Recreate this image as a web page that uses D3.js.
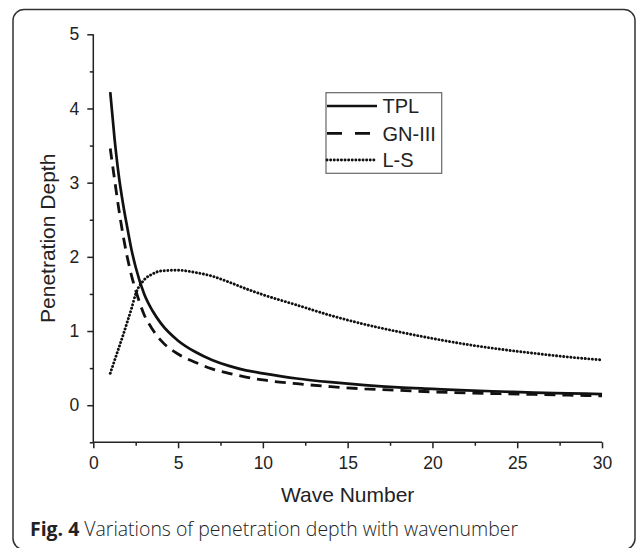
<!DOCTYPE html>
<html>
<head>
<meta charset="utf-8">
<script src="https://cdn.jsdelivr.net/npm/d3@7"></script>
<style>
  html, body { margin: 0; padding: 0; background: #fff; }
  svg { display: block; }
</style>
</head>
<body>
<script>
// ---- Data ----
const waveNumber = [1, 1.25, 1.5, 1.75, 2, 2.25, 2.5, 3, 3.5, 4, 5, 6, 7, 8, 9, 10, 12, 14, 16, 18, 20, 22, 24, 26, 28, 30];
const tplDepth   = [4.22, 3.6, 3.1, 2.72, 2.4, 2.1, 1.86, 1.5, 1.27, 1.1, 0.87, 0.72, 0.61, 0.53, 0.47, 0.43, 0.36, 0.31, 0.27, 0.24, 0.22, 0.2, 0.185, 0.17, 0.16, 0.15];
const gnDepth    = [3.46, 3.05, 2.65, 2.3, 2.0, 1.75, 1.55, 1.22, 1.02, 0.87, 0.69, 0.58, 0.49, 0.43, 0.38, 0.34, 0.29, 0.25, 0.22, 0.2, 0.18, 0.165, 0.155, 0.145, 0.135, 0.125];
const lsDepth    = [0.43, 0.6, 0.77, 0.94, 1.12, 1.3, 1.5, 1.69, 1.77, 1.81, 1.82, 1.79, 1.74, 1.66, 1.57, 1.49, 1.35, 1.21, 1.09, 0.99, 0.9, 0.82, 0.755, 0.7, 0.65, 0.61];
const seriesNames = ["TPL", "GN-III", "L-S"];
const xTicks = [0, 5, 10, 15, 20, 25, 30];
const yTicks = [0, 1, 2, 3, 4, 5];
const xLabel = "Wave Number";
const yLabel = "Penetration Depth";
const captionBold = "Fig. 4";
const captionText = " Variations of penetration depth with wavenumber";

// ---- Layout ----
const W = 637, H = 548;
const svg = d3.select("body").append("svg").attr("width", W).attr("height", H);

// frame
svg.append("rect")
  .attr("x", 13).attr("y", 9.5).attr("width", 622).attr("height", 540)
  .attr("rx", 11).attr("ry", 11)
  .attr("fill", "none").attr("stroke", "#333").attr("stroke-width", 1.5);

const x = d3.scaleLinear().domain([0, 30]).range([93.3, 602]);
const y = d3.scaleLinear().domain([-0.5, 5]).range([442.3, 34.3]);

const axisColor = "#222";
const tickFont = "'Liberation Sans', Arial, sans-serif";

// minor ticks
const xMinor = d3.range(2.5, 30, 5);
const yMinor = d3.range(-0.5, 5, 1);

// X axis
const gx = svg.append("g").attr("transform", `translate(0,${y(-0.5)})`);
gx.call(d3.axisBottom(x).tickValues(xTicks).tickSize(6).tickPadding(8).tickFormat(d3.format("d")));
gx.append("g").call(d3.axisBottom(x).tickValues(xMinor).tickSize(3.5).tickFormat(""))
  .select(".domain").remove();

// Y axis
const gy = svg.append("g").attr("transform", `translate(${x(0)},0)`);
gy.call(d3.axisLeft(y).tickValues(yTicks).tickSize(6).tickPadding(8).tickFormat(d3.format("d")));
gy.append("g").call(d3.axisLeft(y).tickValues(yMinor).tickSize(3.5).tickFormat(""))
  .select(".domain").remove();

gx.select(".domain").attr("d", `M${x(0)},0H${x(30)}`);
gy.select(".domain").attr("d", `M0,${y(-0.5)}V${y(5)}`);

svg.selectAll(".domain, .tick line").attr("stroke", axisColor).attr("stroke-width", 1.5);
svg.selectAll(".tick text").attr("font-family", tickFont).attr("font-size", 17.5).attr("fill", "#222");

// axis titles
svg.append("text")
  .attr("x", (x(0) + x(30)) / 2).attr("y", 502)
  .attr("text-anchor", "middle")
  .attr("font-family", tickFont).attr("font-size", 21).attr("fill", "#222")
  .text(xLabel);

svg.append("text")
  .attr("transform", `translate(55,${(y(-0.5) + y(5)) / 2}) rotate(-90)`)
  .attr("text-anchor", "middle")
  .attr("font-family", tickFont).attr("font-size", 21).attr("fill", "#222")
  .text(yLabel);

// ---- Lines ----
const styles = [
  { values: tplDepth, dash: null, width: 2.7, cap: "butt", legendDash: null },
  { values: gnDepth, dash: "11,7", width: 2.8, cap: "butt", legendDash: "15,13" },
  { values: lsDepth, dash: "0.1,3.5", width: 2.9, cap: "round", legendDash: "0.1,3.5" }
];

const line = d3.line()
  .x(d => x(d[0]))
  .y(d => y(d[1]))
  .curve(d3.curveMonotoneX);

styles.forEach(s => {
  const pts = waveNumber.map((w, i) => [w, s.values[i]]);
  svg.append("path")
    .attr("d", line(pts))
    .attr("fill", "none")
    .attr("stroke", "#111")
    .attr("stroke-width", s.width)
    .attr("stroke-linecap", s.cap)
    .attr("stroke-dasharray", s.dash);
});

// ---- Legend ----
const lg = svg.append("g");
lg.append("rect")
  .attr("x", 326).attr("y", 92.7).attr("width", 115.7).attr("height", 80.6)
  .attr("fill", "#fff").attr("stroke", "#666").attr("stroke-width", 1.2);
const rowY = [106, 133.3, 160];
styles.forEach((s, i) => {
  lg.append("line")
    .attr("x1", 327).attr("x2", 377)
    .attr("y1", rowY[i]).attr("y2", rowY[i])
    .attr("stroke", "#111").attr("stroke-width", s.width)
    .attr("stroke-linecap", s.cap)
    .attr("stroke-dasharray", s.legendDash);
  lg.append("text")
    .attr("x", 382.5).attr("y", rowY[i] + 7.3)
    .attr("font-family", tickFont).attr("font-size", 20).attr("fill", "#222")
    .text(seriesNames[i]);
});

// ---- Caption ----
const cap = svg.append("text")
  .attr("x", 30).attr("y", 536)
  .attr("font-family", "'Open Sans', 'Noto Sans', sans-serif")
  .attr("font-size", 20).attr("fill", "#222")
  .attr("textLength", 488).attr("lengthAdjust", "spacingAndGlyphs");
cap.append("tspan").attr("font-weight", "bold").text(captionBold);
cap.append("tspan").attr("font-weight", "300").text(captionText);
</script>
</body>
</html>
